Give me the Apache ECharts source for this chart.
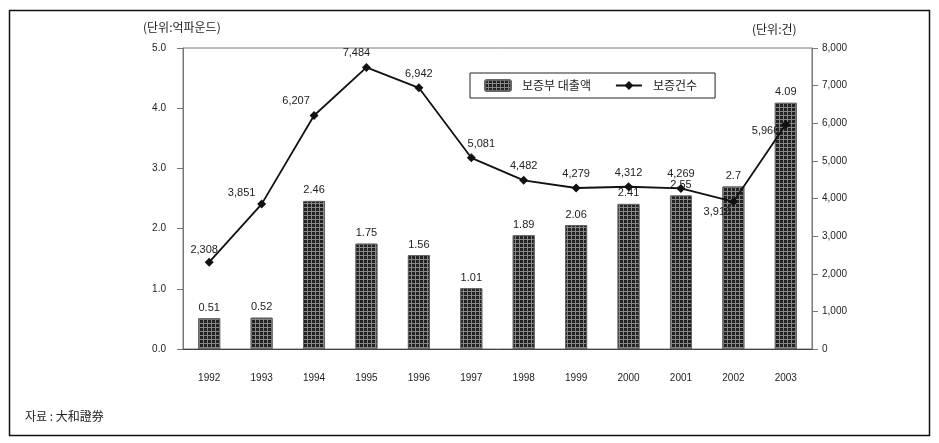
<!DOCTYPE html>
<html>
<head>
<meta charset="utf-8">
<script src="https://cdn.jsdelivr.net/npm/echarts@6/dist/echarts.min.js"></script>
<style>
  html, body { margin: 0; padding: 0; background: #fff; }
  #chart { width: 939px; height: 443px; }
</style>
</head>
<body>
<div id="chart"></div>
<script>
// data
const years = ["1992", "1993", "1994", "1995", "1996", "1997", "1998", "1999", "2000", "2001", "2002", "2003"];
const loanAmount = [0.51, 0.52, 2.46, 1.75, 1.56, 1.01, 1.89, 2.06, 2.41, 2.55, 2.7, 4.09];
const guaranteeCount = [2308, 3851, 6207, 7484, 6942, 5081, 4482, 4279, 4312, 4269, 3916, 5966];
const barName = "보증부 대출액";
const lineName = "보증건수";

const numFont = "'Liberation Sans', 'DejaVu Sans', sans-serif";
const krFont = "'Noto Sans CJK KR', sans-serif";

const chart = echarts.init(document.getElementById("chart"));

// a few line labels sit off to the side in the original
const lineLabelPos = {
  0: { position: "top", offset: [-5, 2] },
  1: { position: "top", offset: [-20, 3] },
  2: { position: "top", offset: [-18, 0] },
  3: { position: "top", offset: [-10, 0] },
  5: { position: "top", offset: [10, 0] },
  10: { position: "bottom", offset: [-16, -4] },
  11: { position: "left", offset: [2, 6] },
};

const option = {
  animation: false,
  backgroundColor: "#fff",
  textStyle: { fontFamily: numFont },
  grid: {
    left: 183, right: 127, top: 48, bottom: 94,
    show: true, borderColor: "#777", borderWidth: 1,
  },
  legend: {
    left: 470, top: 73,
    padding: [6, 18, 6, 14],
    borderColor: "#222", borderWidth: 1,
    itemGap: 24, itemWidth: 26, itemHeight: 11,
    textStyle: { fontFamily: krFont, fontSize: 12, color: "#222", padding: [0, 0, 0, 6] },
    data: [barName, lineName],
  },
  xAxis: {
    type: "category",
    data: years,
    axisLine: { lineStyle: { color: "#444" } },
    axisTick: { inside: true, length: 5, lineStyle: { color: "#444" } },
    axisLabel: { margin: 24, fontSize: 10, color: "#222" },
  },
  yAxis: [
    {
      type: "value", min: 0, max: 5, interval: 1,
      splitLine: { show: false },
      axisLine: { show: true, lineStyle: { color: "#777" } },
      axisTick: { show: true, length: 6, lineStyle: { color: "#777" } },
      axisLabel: {
        margin: 17, fontSize: 10, color: "#222",
        formatter: v => v.toFixed(1),
      },
    },
    {
      type: "value", min: 0, max: 8000, interval: 1000,
      splitLine: { show: false },
      axisLine: { show: true, lineStyle: { color: "#777" } },
      axisTick: { show: true, length: 6, lineStyle: { color: "#777" } },
      axisLabel: {
        margin: 10, fontSize: 10, color: "#222",
        formatter: v => v.toLocaleString("en-US"),
      },
    },
  ],
  series: [
    {
      name: barName,
      type: "bar",
      yAxisIndex: 0,
      data: loanAmount,
      barWidth: 22,
      itemStyle: {
        color: "#888",
        borderColor: "#666",
        borderWidth: 1,
        decal: {
          symbol: "rect", symbolSize: 1, color: "#222",
          dashArrayX: [3, 1], dashArrayY: [3, 1],
        },
      },
      label: {
        show: true, position: "top", distance: 5,
        fontSize: 11, color: "#222",
        formatter: p => String(p.value),
      },
    },
    {
      name: lineName,
      type: "line",
      yAxisIndex: 1,
      data: guaranteeCount.map((v, i) => ({
        value: v,
        label: lineLabelPos[i] || { position: "top", offset: [0, 0] },
      })),
      symbol: "diamond",
      symbolSize: 9,
      lineStyle: { color: "#111", width: 1.8 },
      itemStyle: { color: "#111" },
      label: {
        show: true, fontSize: 11, color: "#222", distance: 4,
        formatter: p => p.value.toLocaleString("en-US"),
      },
      z: 3,
    },
  ],
  graphic: [
    {
      type: "rect", left: 7, top: 8, silent: true,
      shape: { width: 920, height: 425 },
      style: { fill: "none", stroke: "#111", lineWidth: 1.5 },
    },
    {
      type: "text", left: 143, top: 21,
      style: { text: "(단위:억파운드)", font: "12px " + krFont, fill: "#222" },
    },
    {
      type: "text", left: 752, top: 23,
      style: { text: "(단위:건)", font: "12px " + krFont, fill: "#222" },
    },
    {
      type: "text", left: 25, top: 410,
      style: { text: "자료 : 大和證券", font: "12px " + krFont, fill: "#222" },
    },
  ],
};

chart.setOption(option);
</script>
</body>
</html>
